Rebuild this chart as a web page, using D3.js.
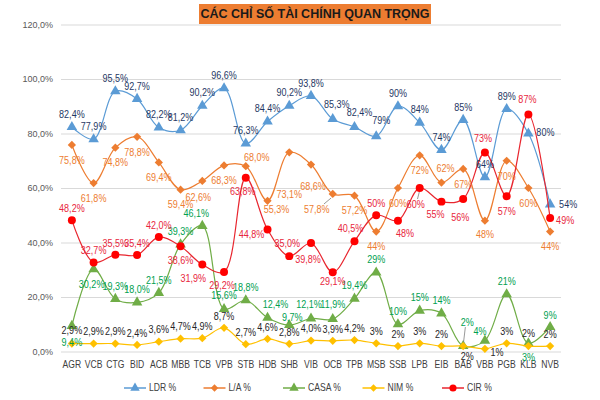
<!DOCTYPE html>
<html><head><meta charset="utf-8">
<script src="https://cdn.jsdelivr.net/npm/d3@7/dist/d3.min.js"></script>
<style>
body{margin:0;background:#fff;}
svg text{font-family:"Liberation Sans",Arial,sans-serif;}
</style></head>
<body><svg id="c" width="600" height="400"></svg>
<script>
const title = "CÁC CHỈ SỐ TÀI CHÍNH QUAN TRỌNG";
const categories = ["AGR","VCB","CTG","BID","ACB","MBB","TCB","VPB","STB","HDB","SHB","VIB","OCB","TPB","MSB","SSB","LPB","EIB","BAB","VBB","PGB","KLB","NVB"];
const ldr  = [82.4,77.9,95.5,92.7,82.2,81.2,90.2,96.6,76.3,84.4,90.2,93.8,85.3,82.4,79,90,84,74,85,64,89,80,54];
const la   = [75.8,61.8,74.8,78.8,69.4,59.4,62.6,68.3,68.0,55.3,73.1,68.6,57.8,57.2,44,60,72,62,67,48,70,60,44];
const casa = [9.4,30.2,19.3,18.0,21.5,39.3,46.1,15.6,18.8,12.4,9.7,12.1,11.9,19.4,29,10,15,14,2,4,21,3,9];
const nim  = [2.9,2.9,2.9,2.4,3.6,4.7,4.9,8.7,2.7,4.6,2.8,4.0,3.9,4.2,3,2,3,2,2,1,3,2,2];
const cir  = [48.2,32.7,35.5,35.4,42.0,38.6,31.9,29.2,63.8,44.8,35.0,39.8,29.1,40.5,50,48,60,55,56,73,57,87,49];
// label text: first 14 banks show one decimal, the rest are rounded
const decimalsUpTo = 14;
const yTicks = [0,20,40,60,80,100,120];
const seriesNames = ["LDR %","L/A %","CASA %","NIM %","CIR %"];

// label offsets (layout only): [dx, dy] per point
const offLDR  = categories.map(()=>[0,-13]);
offLDR[12]=[4,-15]; offLDR[13]=[5,-15]; offLDR[14]=[5,-16]; offLDR[21]=[17,-1]; offLDR[22]=[18,0];
const offLA = categories.map(()=>[0,15]);
offLA[6]=[-4,16]; offLA[8]=[11,-9]; offLA[9]=[9,8]; offLA[10]=[0,42]; offLA[11]=[2,22]; offLA[12]=[-16,15]; offLA[17]=[4,-14]; offLA[19]=[0,14];
const offCASA = categories.map(()=>[0,-13]);
offCASA[0]=[0,16]; offCASA[1]=[-2,15]; offCASA[6]=[-6,-13]; offCASA[7]=[0,-14]; offCASA[9]=[8,-13]; offCASA[10]=[3,-8]; offCASA[11]=[-2,-14]; offCASA[12]=[0,-15]; offCASA[18]=[4,-24]; offCASA[19]=[-5,-9]; offCASA[21]=[0,14]; offCASA[22]=[0,-12];
const offNIM = categories.map(()=>[0,-12]);
offNIM[0]=[0,-13]; offNIM[18]=[4,10]; offNIM[19]=[12,3]; offNIM[21]=[0,-13];
const offCIR = categories.map(()=>[0,-12]);
offCIR[5]=[0,14]; offCIR[6]=[-9,14]; offCIR[7]=[-2,13]; offCIR[8]=[-3,14]; offCIR[9]=[-16,5]; offCIR[10]=[-2,-13]; offCIR[11]=[-3,16]; offCIR[12]=[0,9]; offCIR[13]=[-4,-13]; offCIR[15]=[7,13]; offCIR[16]=[-4,16]; offCIR[17]=[-6,13]; offCIR[18]=[-3,18]; offCIR[19]=[-2,-14]; offCIR[20]=[0,15]; offCIR[21]=[-1,-15]; offCIR[22]=[15,2];

const series = [
  {name:seriesNames[0], values:ldr, line:"#5B9BD5", mark:"#5B9BD5", label:"#1F3864", shape:"tri", off:offLDR},
  {name:seriesNames[1], values:la, line:"#ED7D31", mark:"#ED7D31", label:"#ED7D31", shape:"dia", off:offLA},
  {name:seriesNames[2], values:casa, line:"#70AD47", mark:"#70AD47", label:"#00A050", shape:"tri", off:offCASA},
  {name:seriesNames[3], values:nim, line:"#FFC000", mark:"#FFC000", label:"#262626", shape:"dia", off:offNIM},
  {name:seriesNames[4], values:cir, line:"#E8262F", mark:"#FF0000", label:"#E8263C", shape:"dot", off:offCIR}
];

const svg = d3.select("#c");
const margin = {left:61, right:39, top:24.5, bottom:48.5};
const W = 600, H = 400;
const x = d3.scaleBand().domain(categories).range([margin.left, W-margin.right]);
const y = d3.scaleLinear().domain([0,120]).range([H-margin.bottom, margin.top]);
const cx = c => x(c) + x.bandwidth()/2;
const squeeze = 0.86;

// gridlines + y axis
const yAxis = d3.axisLeft(y).tickValues(yTicks).tickSize(-(W-margin.left-margin.right))
  .tickFormat(d => d3.format(".1f")(d).replace(".", ",") + "%");
const gy = svg.append("g").attr("transform",`translate(${margin.left},0)`).call(yAxis);
gy.select(".domain").remove();
gy.selectAll(".tick line").attr("stroke","#D9D9D9").attr("stroke-width",1);
gy.selectAll(".tick text").attr("fill","#595959").attr("font-size","9px").attr("x",-8);

// x axis
const xAxis = d3.axisBottom(x).tickSize(0);
const gx = svg.append("g").attr("transform",`translate(0,${H-margin.bottom})`).call(xAxis);
gx.select(".domain").remove();
gx.selectAll(".tick text").attr("fill","#404040").attr("font-size","10px").attr("dy","1.4em")
  .attr("transform",`scale(${squeeze},1)`);

// title
const tg = svg.append("g");
tg.append("rect").attr("x",199).attr("y",4).attr("width",232).attr("height",20).attr("fill","#ED7D31");
tg.append("text").attr("x",315).attr("y",14).attr("text-anchor","middle").attr("dominant-baseline","central")
  .attr("font-size","12.5px").attr("font-weight","bold").attr("fill","#1a1a1a").text(title);

function markerPath(shape, size){
  if(shape==="tri") return d3.symbol(d3.symbolTriangle, size)();
  if(shape==="dia") return d3.symbol(d3.symbolSquare, size)();
  return d3.symbol(d3.symbolCircle, size)();
}
const line = d3.line().x((d,i)=>cx(categories[i])).y(d=>y(d)).curve(d3.curveCatmullRom.alpha(0.5));

const sizes = {tri:48, dia:34, dot:50};
series.forEach(s=>{
  svg.append("path").attr("d", line(s.values)).attr("fill","none").attr("stroke",s.line).attr("stroke-width",1.2);
  svg.selectAll(null).data(s.values).enter().append("path")
    .attr("d", markerPath(s.shape, sizes[s.shape]))
    .attr("transform",(d,i)=>`translate(${cx(categories[i])},${y(d)})` + (s.shape==="dia"?" rotate(45)":""))
    .attr("fill",s.mark);
});

// leader lines
const leaders = [[1,12,[-16,15]],[2,18,[4,-24]],[4,16,[-4,16]]];
leaders.forEach(([si,i,o])=>{
  const s = series[si]; const px=cx(categories[i]), py=y(s.values[i]);
  svg.append("line").attr("x1",px+o[0]*0.55).attr("y1",py+o[1]-Math.sign(o[1])*5)
    .attr("x2",px+o[0]*0.1).attr("y2",py+Math.sign(o[1])*4).attr("stroke","#7f7f7f").attr("stroke-width",0.8);
});

// labels
const fmt = (v,i) => i < decimalsUpTo ? d3.format(".1f")(v).replace(".",",")+"%" : d3.format(".0f")(v)+"%";
series.forEach(s=>{
  svg.selectAll(null).data(s.values).enter().append("text")
    .attr("transform",(d,i)=>`translate(${cx(categories[i]) + s.off[i][0]},${y(d) + s.off[i][1]}) scale(${squeeze},1)`)
    .attr("text-anchor","middle").attr("dominant-baseline","central")
    .attr("font-size","10.5px").attr("fill",s.label)
    .text((d,i)=>fmt(d,i));
});

// legend
const lg = svg.append("g");
series.forEach((s,k)=>{
  const x0 = 124 + k*79.5, yy = 388;
  lg.append("line").attr("x1",x0).attr("x2",x0+22).attr("y1",yy).attr("y2",yy).attr("stroke",s.line).attr("stroke-width",1.5);
  lg.append("path").attr("d", markerPath(s.shape, sizes[s.shape]*0.8))
    .attr("transform",`translate(${x0+11},${yy})` + (s.shape==="dia"?" rotate(45)":"")).attr("fill",s.mark);
  lg.append("text").attr("transform",`translate(${x0+25},${yy}) scale(${squeeze},1)`).attr("dominant-baseline","central")
    .attr("font-size","10px").attr("fill","#404040").text(s.name);
});
</script></body></html>
